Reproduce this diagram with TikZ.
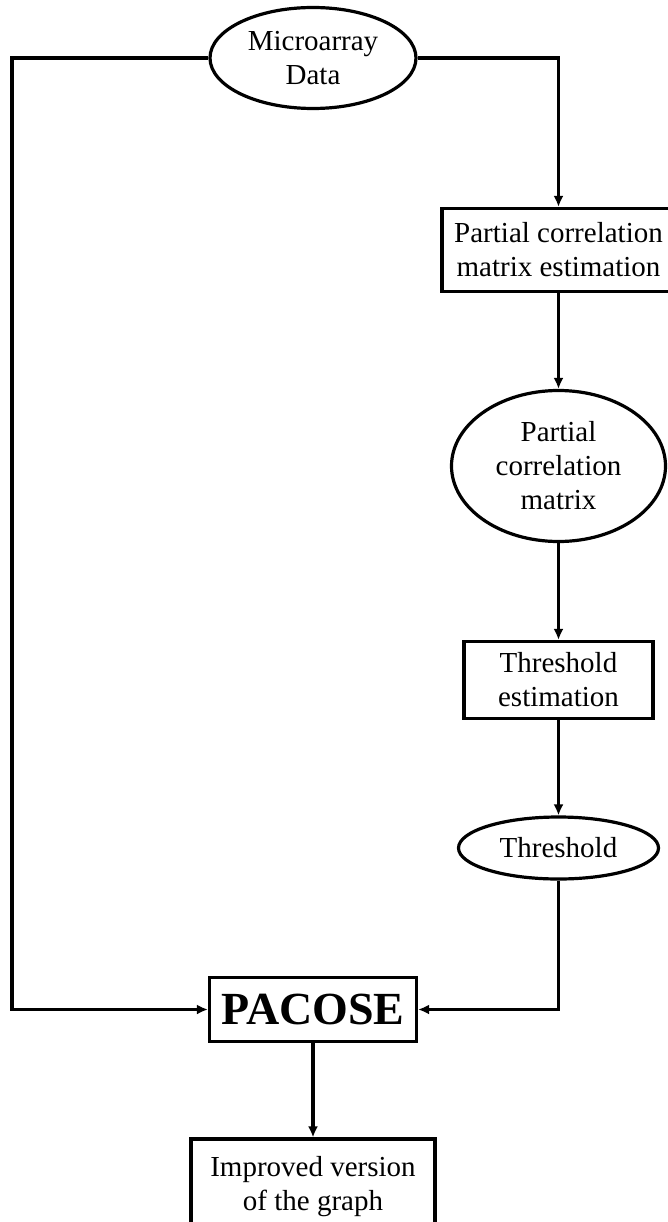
\documentclass[tikz,border=0pt]{standalone}
\usepackage{fontspec}
\setmainfont{Liberation Serif}
\usetikzlibrary{arrows.meta,shapes.geometric}

\begin{document}
\begin{tikzpicture}[x=1pt, y=-1pt, line width=3.2pt,
    oval/.style={ellipse, draw, inner sep=0pt, align=center, font=\fontsize{29}{34}\selectfont},
    block/.style={rectangle, draw, inner sep=0pt, align=center, font=\fontsize{29}{34}\selectfont},
    flow/.style={-{Latex[length=11pt,width=10pt]}}]

    \useasboundingbox (0,0) rectangle (668,1222);

    \node[oval, minimum width=206, minimum height=101] (data) at (313,58) {Microarray\\Data};
    \node[block, minimum width=233, minimum height=83] (pcest) at (558.5,250) {Partial correlation\\matrix estimation};
    \node[oval, minimum width=214, minimum height=151] (pcmat) at (558.5,466) {Partial\\correlation\\matrix};
    \node[block, minimum width=189, minimum height=77] (threst) at (558.5,680) {Threshold\\estimation};
    \node[oval, minimum width=200, minimum height=62] (thr) at (558.5,848) {Threshold};
    \node[block, minimum width=207, minimum height=64, font=\fontsize{46}{50}\selectfont\bfseries] (pacose) at (313,1009.5) {PACOSE};
    \node[block, minimum width=244, minimum height=96] (graph) at (313,1187) {Improved version\\of the graph};

    \coordinate (left) at (12,1009.5);

    \draw[flow] (data.west) -| (left) -- (pacose.west);
    \draw[flow] (data.east) -| (pcest.north);
    \draw[flow] (pcest) -- (pcmat);
    \draw[flow] (pcmat) -- (threst);
    \draw[flow] (threst) -- (thr);
    \draw[flow] (thr.south) |- (pacose.east);
    \draw[flow] (pacose) -- (graph);

\end{tikzpicture}
\end{document}
